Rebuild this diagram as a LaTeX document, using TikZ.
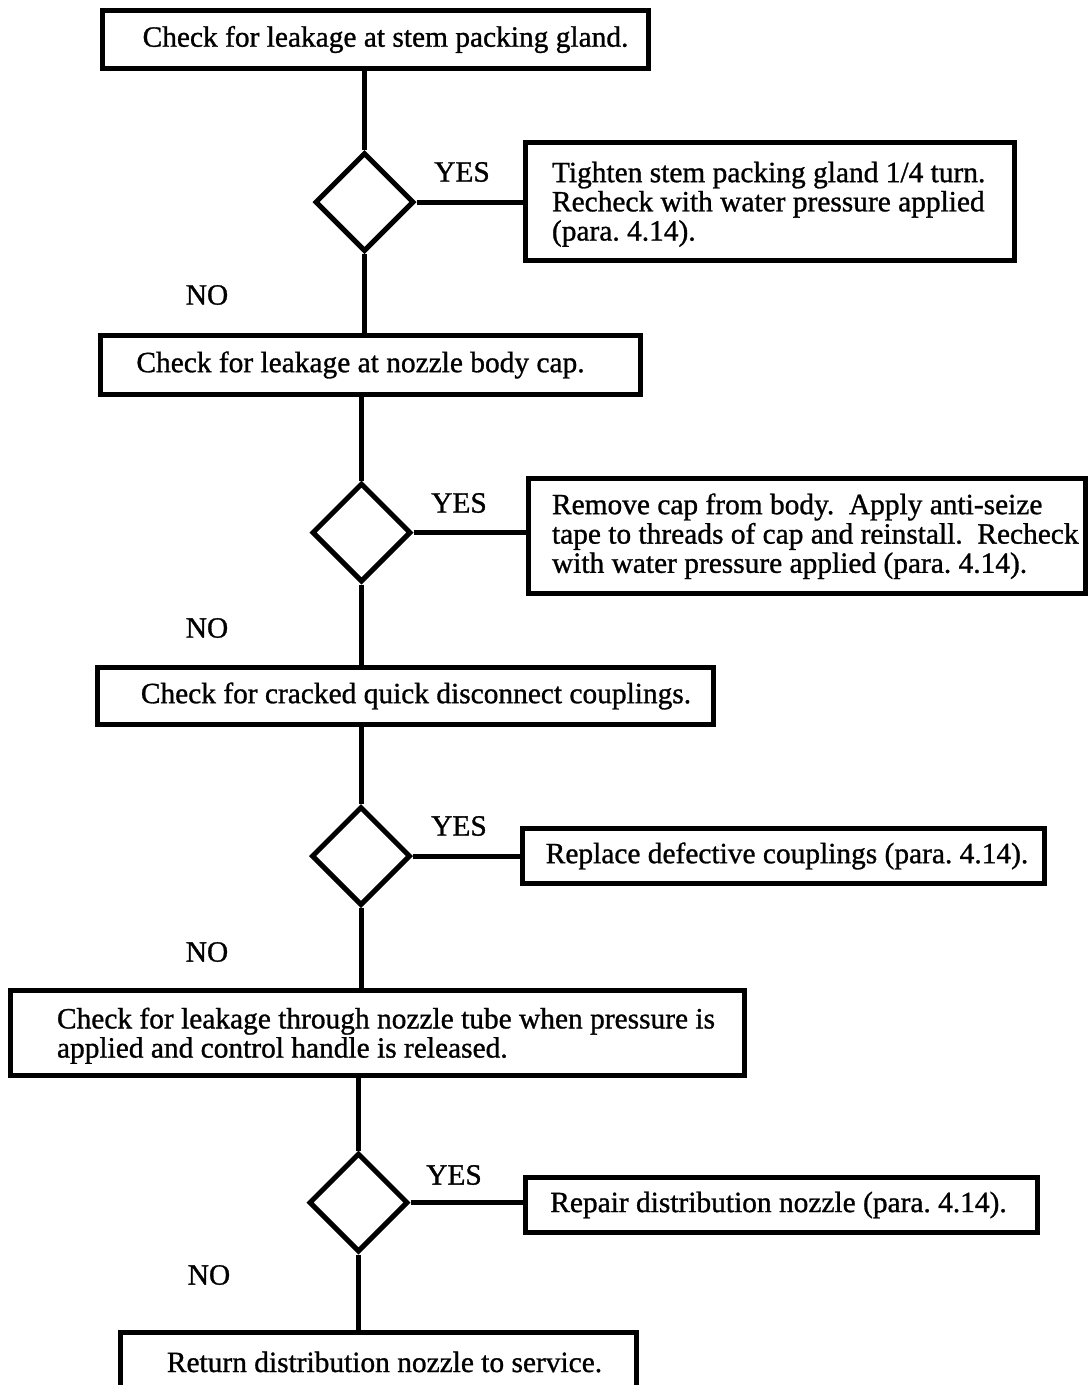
\documentclass[tikz,border=0pt]{standalone}
\usepackage{fontspec}
\setmainfont[FakeBold=1.0]{Liberation Serif}
\usetikzlibrary{shapes.geometric}
\newcommand{\leftblock}[3]{\raisebox{#2}[\height][\depth]{\makebox[#1][l]{\begin{tabular}{@{}l@{}}#3\end{tabular}}}}
\begin{document}
\frenchspacing
\begin{tikzpicture}[x=1pt,y=-1pt,
  txt/.style={font=\fontsize{29.4}{29.2}\selectfont},
  box/.style={draw, line width=5pt, rectangle, inner sep=0pt, txt},
  dec/.style={draw, line width=5pt, diamond, aspect=1, minimum size=99pt, inner sep=0pt},
  lbl/.style={txt, inner sep=0pt},
  link/.style={line width=5pt}]
\useasboundingbox (0,0) rectangle (1089,1385);
\clip (0,0) rectangle (1089,1385);
% boxes
\node[box, minimum width=546, minimum height=58] (b1) at (375.5,39.5) {\hspace*{20pt}Check for leakage at stem packing gland.};
\node[box, minimum width=489, minimum height=118] (b2) at (770,201.5)
  {\leftblock{436pt}{-4pt}{Tighten stem packing gland 1/4 turn.\\Recheck with water pressure applied\\(para. 4.14).}};
\node[box, minimum width=540, minimum height=59.5] (b3) at (370.5,365) {Check for leakage at nozzle body cap.\hspace*{20pt}};
\node[box, minimum width=557.5, minimum height=115.5] (b4) at (807,536)
  {\leftblock{510pt}{-1.5pt}{Remove cap from body.\ \ Apply anti-seize\\tape to threads of cap and reinstall.\ \ Recheck\\with water pressure applied (para. 4.14).}};
\node[box, minimum width=616.5, minimum height=57.5] (b5) at (405.5,696) {\hspace*{21pt}Check for cracked quick disconnect couplings.};
\node[box, minimum width=522.5, minimum height=55.5] (b6) at (783.5,856) {\hspace*{7pt}Replace defective couplings (para. 4.14).};
\node[box, minimum width=734.5, minimum height=85.5] (b7) at (377.5,1033)
  {\leftblock{641pt}{-4pt}{Check for leakage through nozzle tube when pressure is\\applied and control handle is released.}};
\node[box, minimum width=512.5, minimum height=55.5] (b8) at (781.5,1205) {Repair distribution nozzle (para. 4.14).\hspace*{6pt}};
\node[box, minimum width=516.5, minimum height=60] (b9) at (378.5,1362) {\hspace*{12pt}Return distribution nozzle to service.};
% decisions
\node[dec] (d1) at (364.5,202) {};
\node[dec] (d2) at (361.5,532.5) {};
\node[dec] (d3) at (361,856) {};
\node[dec] (d4) at (358.5,1202.5) {};
% labels
\node[lbl] (y1) at (462,172) {YES};
\node[lbl] (y2) at (459,503) {YES};
\node[lbl] (y3) at (459,826) {YES};
\node[lbl] (y4) at (454,1175) {YES};
\node[lbl] (n1) at (207,295) {NO};
\node[lbl] (n2) at (207,628) {NO};
\node[lbl] (n3) at (207,952) {NO};
\node[lbl] (n4) at (209,1275) {NO};
% connectors
\draw[link] (d1.north |- b1.south) -- (d1.north);
\draw[link] (d1.east) -- (d1.east -| b2.west);
\draw[link] (d1.south) -- (d1.south |- b3.north);
\draw[link] (d2.north |- b3.south) -- (d2.north);
\draw[link] (d2.east) -- (d2.east -| b4.west);
\draw[link] (d2.south) -- (d2.south |- b5.north);
\draw[link] (d3.north |- b5.south) -- (d3.north);
\draw[link] (d3.east) -- (d3.east -| b6.west);
\draw[link] (d3.south) -- (d3.south |- b7.north);
\draw[link] (d4.north |- b7.south) -- (d4.north);
\draw[link] (d4.east) -- (d4.east -| b8.west);
\draw[link] (d4.south) -- (d4.south |- b9.north);
\end{tikzpicture}
\end{document}
